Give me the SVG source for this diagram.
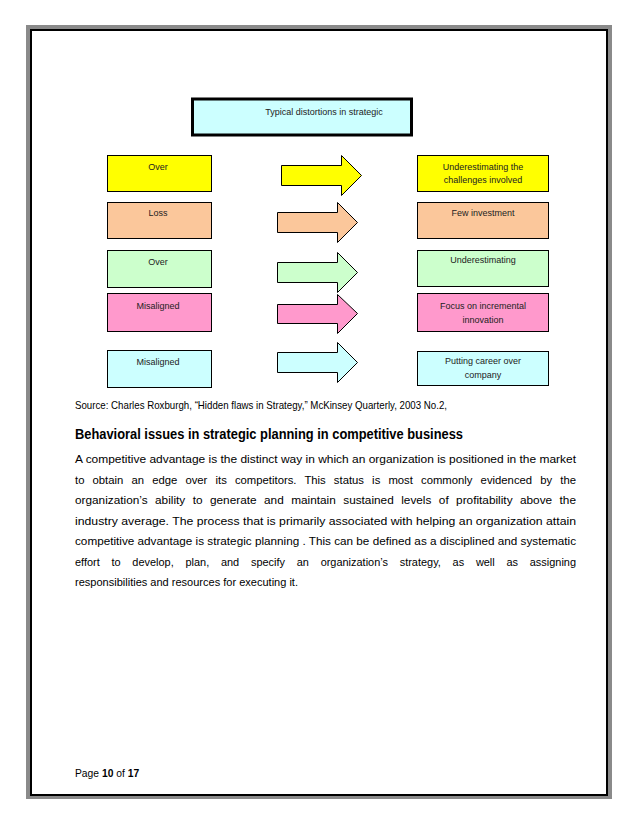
<svg xmlns="http://www.w3.org/2000/svg" width="638" height="826" viewBox="0 0 638 826">
<style>
.bx{stroke:#000;stroke-width:1}
.ar{stroke:#000;stroke-width:1;stroke-linejoin:miter}
.t{font-family:"Liberation Sans",Arial,sans-serif;font-size:9px;fill:#222;text-anchor:middle}
.b{font-family:"Liberation Sans",Arial,sans-serif;font-size:11.3px;fill:#000}
.h{font-family:"Liberation Sans",Arial,sans-serif;font-size:14px;font-weight:bold;fill:#000}
</style>
<rect x="0" y="0" width="638" height="826" fill="#fff"/>
<rect x="28" y="27" width="582" height="770" fill="none" stroke="#8a8a8a" stroke-width="4"/>
<rect x="31" y="30" width="576" height="765" fill="none" stroke="#000" stroke-width="2"/>

<g id="title">
<rect x="192.5" y="99" width="219" height="36" fill="#ccffff" stroke="#000" stroke-width="3"/>
<text x="324" y="115" class="t">Typical distortions in strategic</text>
</g>

<g id="l1"><rect x="107.5" y="155.5" width="104" height="36" fill="#ffff00" class="bx"/><text x="158" y="170" class="t">Over</text></g>
<g id="l2"><rect x="107.5" y="202.5" width="104" height="36" fill="#fbc79b" class="bx"/><text x="158" y="216" class="t">Loss</text></g>
<g id="l3"><rect x="107.5" y="250.5" width="104" height="37" fill="#ccffcc" class="bx"/><text x="158" y="265" class="t">Over</text></g>
<g id="l4"><rect x="107.5" y="293.5" width="104" height="38" fill="#ff99cc" class="bx"/><text x="158" y="309" class="t">Misaligned</text></g>
<g id="l5"><rect x="107.5" y="350.5" width="104" height="37" fill="#ccffff" class="bx"/><text x="158" y="365" class="t">Misaligned</text></g>

<g id="r1"><rect x="417.5" y="155.5" width="131" height="36" fill="#ffff00" class="bx"/><text x="483" y="170" class="t">Underestimating the</text><text x="483" y="183" class="t">challenges involved</text></g>
<g id="r2"><rect x="417.5" y="202.5" width="131" height="36" fill="#fbc79b" class="bx"/><text x="483" y="216" class="t">Few investment</text></g>
<g id="r3"><rect x="417.5" y="250.5" width="131" height="36" fill="#ccffcc" class="bx"/><text x="483" y="263" class="t">Underestimating</text></g>
<g id="r4"><rect x="417.5" y="293.5" width="131" height="38" fill="#ff99cc" class="bx"/><text x="483" y="309" class="t">Focus on incremental</text><text x="483" y="323" class="t">innovation</text></g>
<g id="r5"><rect x="417.5" y="351.5" width="131" height="34" fill="#ccffff" class="bx"/><text x="483" y="364" class="t">Putting career over</text><text x="483" y="378" class="t">company</text></g>

<g id="connectors">
<polygon class="ar" fill="#ffff00" points="281.5,165.5 341.5,165.5 341.5,155.5 361.5,175.5 341.5,195.5 341.5,185.5 281.5,185.5"/>
<polygon class="ar" fill="#fbc79b" points="277.5,212.5 337.5,212.5 337.5,202.5 357.5,222.5 337.5,242.5 337.5,232.5 277.5,232.5"/>
<polygon class="ar" fill="#ccffcc" points="277.5,262.5 337.5,262.5 337.5,252.5 357.5,272.5 337.5,292.5 337.5,282.5 277.5,282.5"/>
<polygon class="ar" fill="#ff99cc" points="277.5,304.5 337.5,304.5 337.5,294.5 357.5,313.5 337.5,333.5 337.5,323.5 277.5,323.5"/>
<polygon class="ar" fill="#ccffff" points="277.5,352.5 337.5,352.5 337.5,342.5 357.5,362.5 337.5,382.5 337.5,372.5 277.5,372.5"/>
</g>

<text x="75" y="409" class="b" textLength="372" lengthAdjust="spacingAndGlyphs">Source: Charles Roxburgh, “Hidden flaws in Strategy,” McKinsey Quarterly, 2003 No.2,</text>
<text x="75" y="439" class="h" textLength="388" lengthAdjust="spacingAndGlyphs">Behavioral issues in strategic planning in competitive business</text>

<g class="b">
<text x="75" y="463" textLength="501" lengthAdjust="spacingAndGlyphs">A competitive advantage is the distinct way in which an organization is positioned in the market</text>
<text x="75" y="484" textLength="501" lengthAdjust="spacingAndGlyphs" word-spacing="5">to obtain an edge over its competitors. This status is most commonly evidenced by the</text>
<text x="75" y="504" textLength="501" lengthAdjust="spacingAndGlyphs" word-spacing="4">organization’s ability to generate and maintain sustained levels of profitability above the</text>
<text x="75" y="525" textLength="501" lengthAdjust="spacingAndGlyphs">industry average. The process that is primarily associated with helping an organization attain</text>
<text x="75" y="545" textLength="501" lengthAdjust="spacingAndGlyphs">competitive advantage is strategic planning . This can be defined as a disciplined and systematic</text>
<text x="75" y="566" textLength="501" lengthAdjust="spacingAndGlyphs" word-spacing="9">effort to develop, plan, and specify an organization’s strategy, as well as assigning</text>
<text x="75" y="586" textLength="223" lengthAdjust="spacingAndGlyphs">responsibilities and resources for executing it.</text>
</g>

<text x="75" y="777" font-family="'Liberation Sans',Arial,sans-serif" font-size="10.3px">Page <tspan font-weight="bold">10</tspan> of <tspan font-weight="bold">17</tspan></text>
</svg>
